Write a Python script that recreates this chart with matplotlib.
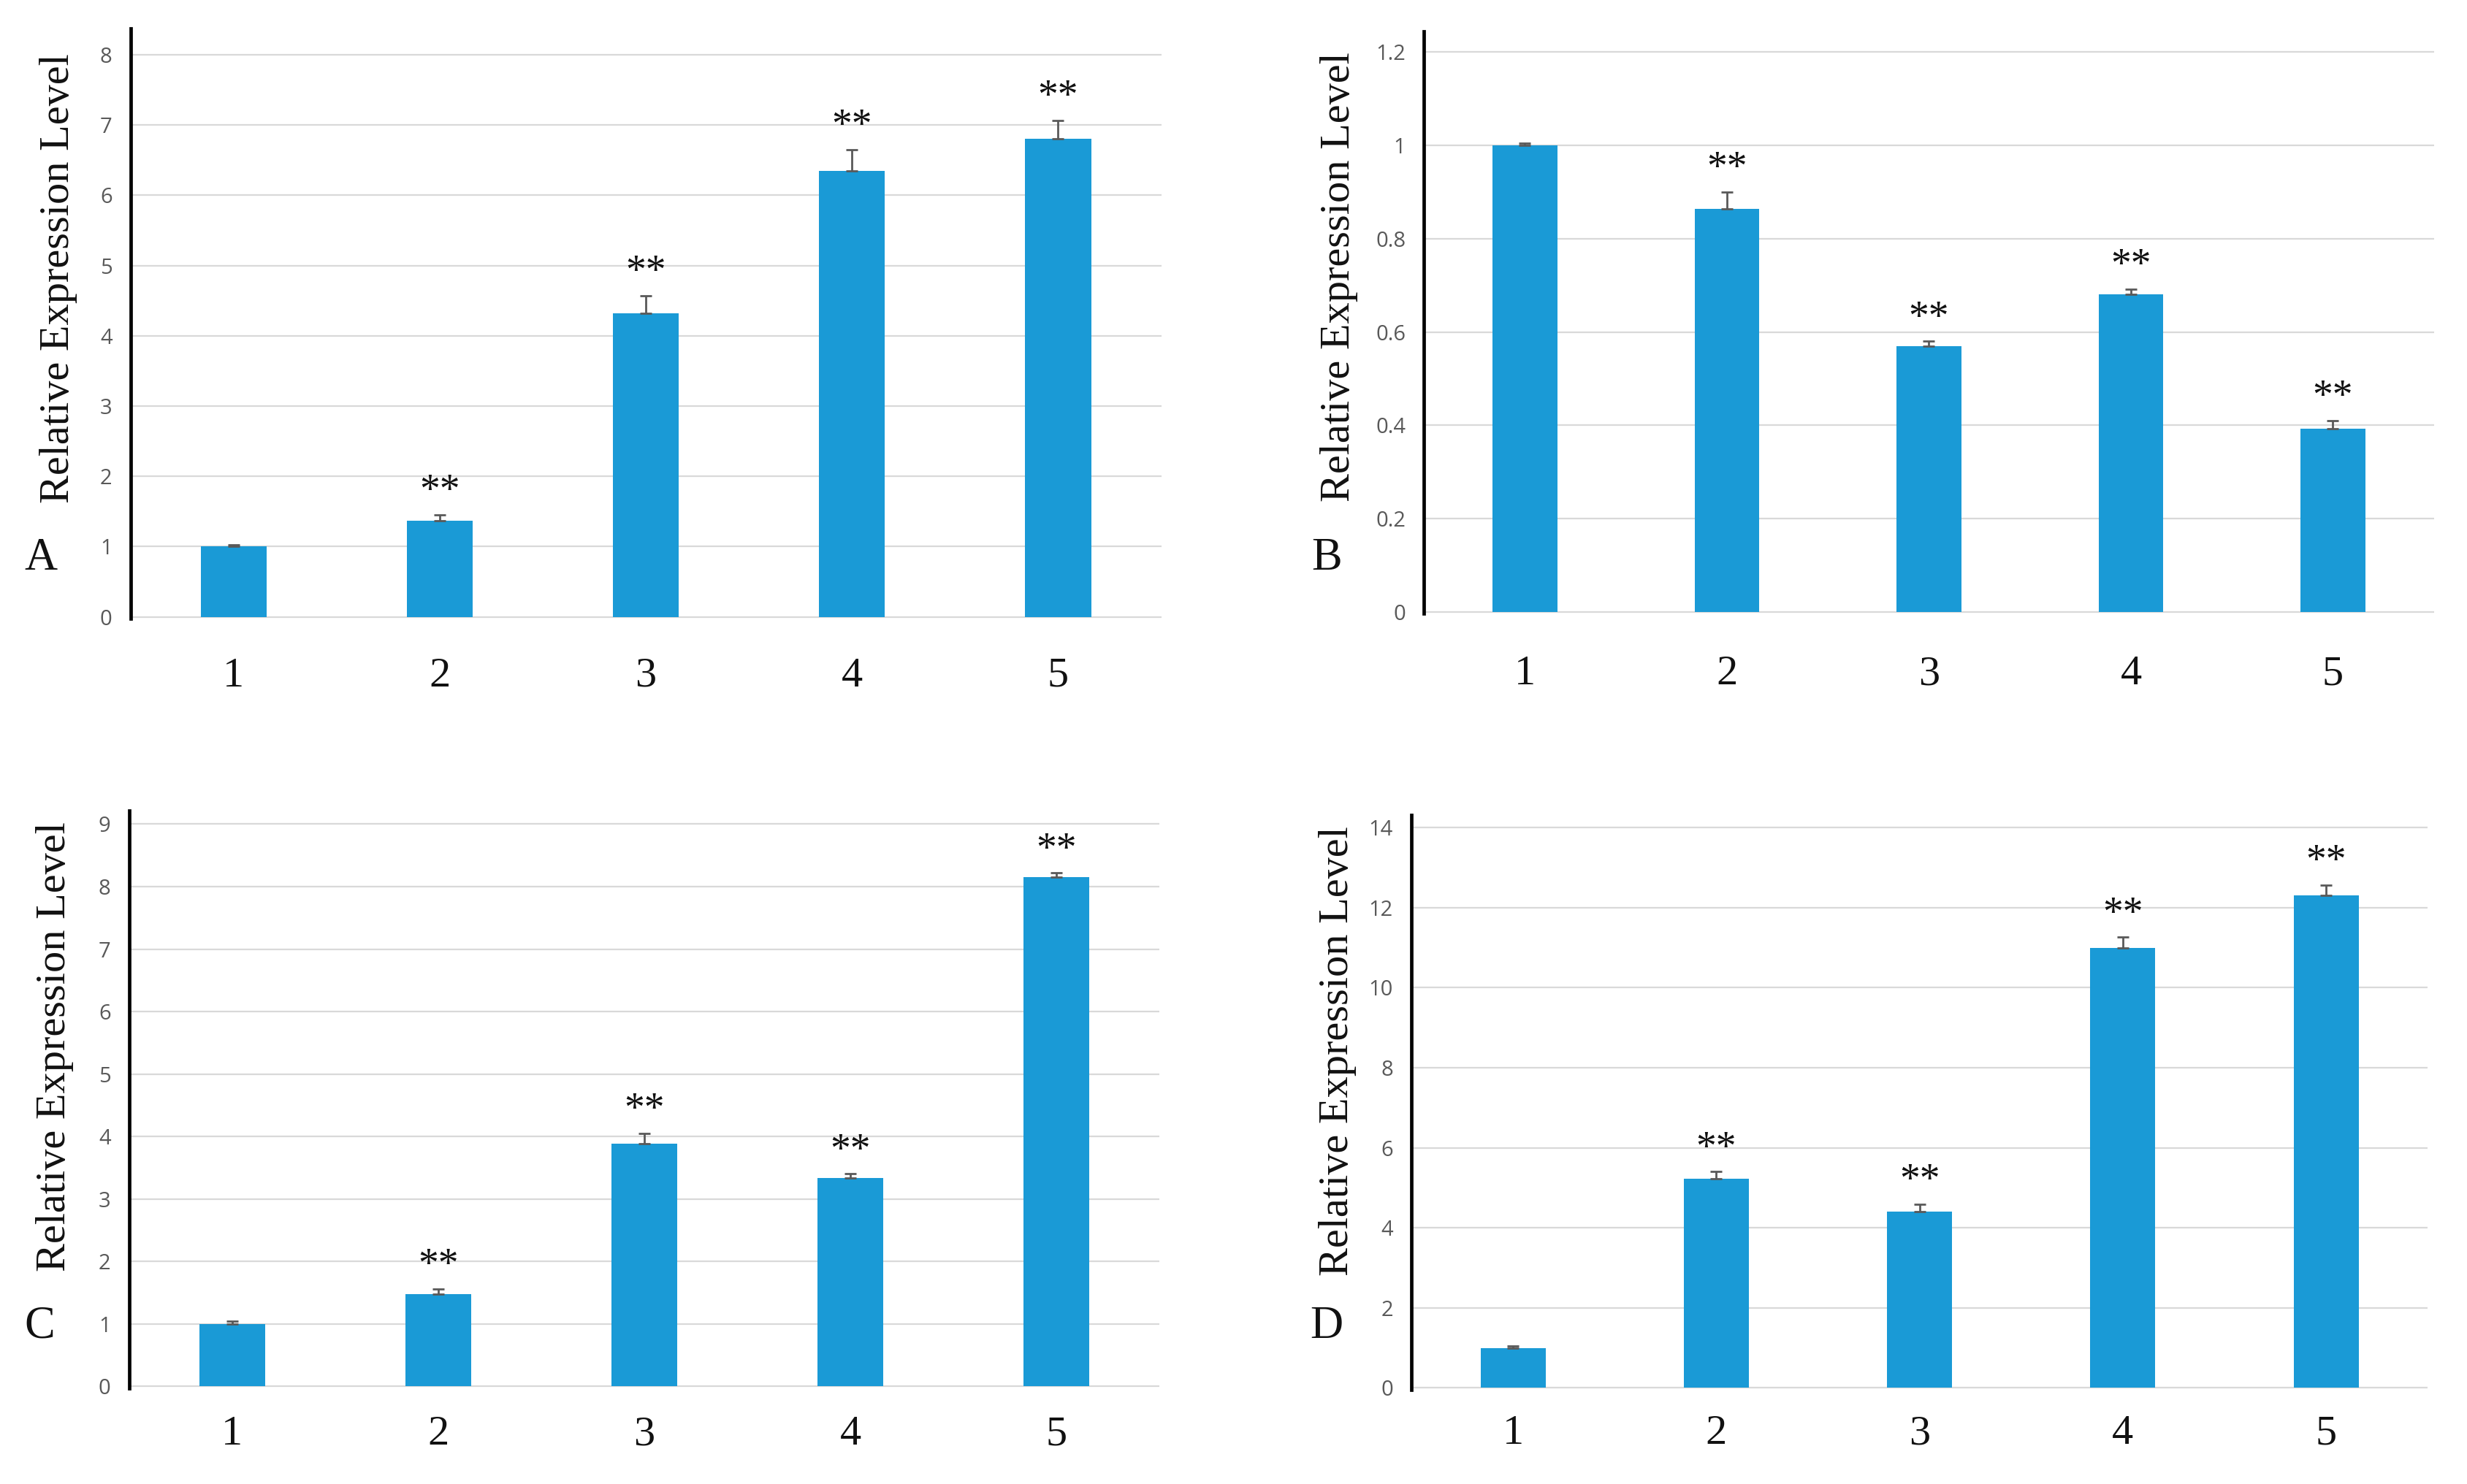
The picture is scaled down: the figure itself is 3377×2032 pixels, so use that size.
import matplotlib
matplotlib.use("Agg")
import matplotlib.pyplot as plt
import numpy as np

categories = ["1", "2", "3", "4", "5"]

vals_A = [1.00, 1.37, 4.32, 6.35, 6.81]
err_A = [0.02, 0.08, 0.25, 0.30, 0.26]
sig_A = ["", "**", "**", "**", "**"]
ticks_A = [0, 1, 2, 3, 4, 5, 6, 7, 8]
ticklabels_A = ["0", "1", "2", "3", "4", "5", "6", "7", "8"]

vals_B = [1.00, 0.864, 0.570, 0.680, 0.393]
err_B = [0.005, 0.036, 0.010, 0.012, 0.017]
sig_B = ["", "**", "**", "**", "**"]
ticks_B = [0, 0.2, 0.4, 0.6, 0.8, 1.0, 1.2]
ticklabels_B = ["0", "0.2", "0.4", "0.6", "0.8", "1", "1.2"]

vals_C = [1.00, 1.47, 3.88, 3.33, 8.15]
err_C = [0.04, 0.09, 0.17, 0.07, 0.07]
sig_C = ["", "**", "**", "**", "**"]
ticks_C = [0, 1, 2, 3, 4, 5, 6, 7, 8, 9]
ticklabels_C = ["0", "1", "2", "3", "4", "5", "6", "7", "8", "9"]

vals_D = [1.00, 5.22, 4.40, 11.00, 12.30]
err_D = [0.05, 0.18, 0.19, 0.26, 0.27]
sig_D = ["", "**", "**", "**", "**"]
ticks_D = [0, 2, 4, 6, 8, 10, 12, 14]
ticklabels_D = ["0", "2", "4", "6", "8", "10", "12", "14"]

ylabel = "Relative Expression Level"
letters = ["A", "B", "C", "D"]

BAR = "#1a9ad6"
SERIF = "Liberation Serif"
SANS = "Open Sans"

fig = plt.figure(figsize=(33.77, 20.32), dpi=100)

panels = [
    dict(vals=vals_A, err=err_A, sig=sig_A, ticks=ticks_A, tl=ticklabels_A,
         pos=[0.0529, 0.5832, 0.4178, 0.3978], ytop=8.38, xpad=38,
         ylab=(37, 177), letter=(26, 355)),
    dict(vals=vals_B, err=err_B, sig=sig_B, ticks=ticks_B, tl=ticklabels_B,
         pos=[0.5772, 0.5864, 0.4094, 0.3924], ytop=1.244, xpad=41,
         ylab=(851, 176), letter=(843, 355)),
    dict(vals=vals_C, err=err_C, sig=sig_C, ticks=ticks_C, tl=ticklabels_C,
         pos=[0.0523, 0.0647, 0.4177, 0.3892], ytop=9.22, xpad=27,
         ylab=(35, 665), letter=(25, 843)),
    dict(vals=vals_D, err=err_D, sig=sig_D, ticks=ticks_D, tl=ticklabels_D,
         pos=[0.5721, 0.0636, 0.4120, 0.3871], ytop=14.31, xpad=25,
         ylab=(850, 668), letter=(843, 843)),
]

x = np.arange(1, len(categories) + 1)

for p, letter in zip(panels, letters):
    ax = fig.add_axes(p["pos"])
    ax.bar(x, p["vals"], width=0.32, color=BAR, zorder=2)
    ax.errorbar(x, p["vals"], yerr=[np.zeros(len(x)), p["err"]], fmt="none",
                ecolor="#595959", elinewidth=2.0, capsize=6, capthick=2.0, zorder=3)
    tops = np.array(p["vals"]) + np.array(p["err"])
    for xi, t, s in zip(x, tops, p["sig"]):
        if s:
            ax.annotate(s, (xi, t), xytext=(0, 12), textcoords="offset points",
                        ha="center", va="baseline", fontsize=40, family=SERIF,
                        color="#111111")
    ax.set_xlim(0.5, 5.5)
    ax.set_ylim(-0.003 * p["ytop"], p["ytop"])
    ax.set_yticks(p["ticks"])
    ax.set_yticklabels(p["tl"], family=SANS, fontsize=21, color="#595959")
    ax.set_xticks(x)
    ax.set_xticklabels(categories, family=SERIF, fontsize=42, color="#111111")
    ax.tick_params(axis="y", length=0, pad=18)
    ax.tick_params(axis="x", length=0, pad=p["xpad"])
    ax.yaxis.grid(True, color="#d9d9d9", lw=1.6)
    ax.set_axisbelow(True)
    for s in ["top", "right", "bottom"]:
        ax.spines[s].set_visible(False)
    ax.spines["left"].set_linewidth(3.4)
    ax.spines["left"].set_color("black")
    ax.spines["left"].set_zorder(4)

    lx, ly = p["ylab"]
    fig.text(lx / 1568, 1 - ly / 943, ylabel, rotation=90, ha="center", va="center",
             family=SERIF, fontsize=42, color="#111111")
    tx, ty = p["letter"]
    fig.text(tx / 1568, 1 - ty / 943, letter, ha="center", va="center",
             family=SERIF, fontsize=45, color="#111111")

fig.savefig("out.png", dpi=100, facecolor="white")
